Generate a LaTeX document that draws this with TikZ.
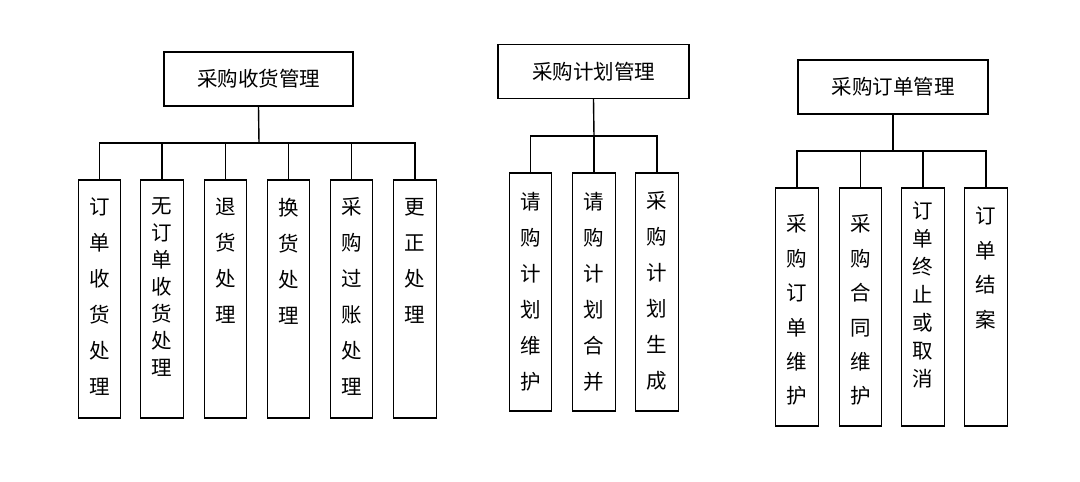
\documentclass[tikz,border=0pt]{standalone}
\usepackage{fontspec}
\newfontfamily\cjk{Noto Sans CJK SC}
\begin{document}
\begin{tikzpicture}[x=1pt,y=-1pt,line width=1.4pt,
  rootbox/.style={draw,rectangle,inner sep=0pt,minimum height=54pt,font=\cjk\fontsize{20.5}{24}\selectfont},
  leafbox/.style={draw,rectangle,inner sep=0pt,minimum width=42.5pt,minimum height=238pt},
  vt/.style={anchor=north,inner sep=0pt,align=center,font=\cjk\fontsize{20.5}{36}\selectfont},
  vtb/.style={vt,font=\cjk\fontsize{20.5}{27}\selectfont},
  vtc/.style={vt,font=\cjk\fontsize{20.5}{34.4}\selectfont},
  vtd/.style={vt,font=\cjk\fontsize{20.5}{28}\selectfont},
  link/.style={line width=1.4pt}]
\useasboundingbox (0,0) rectangle (1080,482);

% ---------- group 1 ----------
\node[rootbox,minimum width=189pt] (r1) at (258.5,79) {采购收货管理};
\coordinate (bus1) at (259,143);
\foreach \n/\x in {1/99.5,2/162,3/225.5,4/288.5,5/351.5,6/415}
  \node[leafbox] (b1\n) at (\x,299) {};
\node[vt]  (t11) at ([yshift=-18pt]b11.north) {订\\单\\收\\货\\处\\理};
\node[vtb] (t12) at ([yshift=-18pt]b12.north) {无\\订\\单\\收\\货\\处\\理};
\node[vt]  (t13) at ([yshift=-18pt]b13.north) {退\\货\\处\\理};
\node[vt]  (t14) at ([yshift=-18pt]b14.north) {换\\货\\处\\理};
\node[vt]  (t15) at ([yshift=-18pt]b15.north) {采\\购\\过\\账\\处\\理};
\node[vt]  (t16) at ([yshift=-18pt]b16.north) {更\\正\\处\\理};
\draw[link] (r1.south) -- (bus1);
\draw[link] (b11.north) -- (b11.north |- bus1) -- (b16.north |- bus1) -- (b16.north);
\foreach \n in {2,3,4,5}
  \draw[link] (b1\n.north) -- (b1\n.north |- bus1);

% ---------- group 2 ----------
\node[rootbox,minimum width=191pt] (r2) at (593.5,71.5) {采购计划管理};
\coordinate (bus2) at (594,136);
\foreach \n/\x in {1/530.5,2/594,3/657}
  \node[leafbox] (b2\n) at (\x,292) {};
\node[vt] (t21) at ([yshift=-19pt]b21.north) {请\\购\\计\\划\\维\\护};
\node[vt] (t22) at ([yshift=-19pt]b22.north) {请\\购\\计\\划\\合\\并};
\node[vt] (t23) at ([yshift=-19pt]b23.north) {采\\购\\计\\划\\生\\成};
\draw[link] (r2.south) -- (bus2);
\draw[link] (b21.north) -- (b21.north |- bus2) -- (b23.north |- bus2) -- (b23.north);
\draw[link] (b22.north) -- (b22.north |- bus2);

% ---------- group 3 ----------
\node[rootbox,minimum width=190pt] (r3) at (893,87) {采购订单管理};
\coordinate (bus3) at (893,151);
\foreach \n/\x in {1/797,2/860.5,3/923,4/986}
  \node[leafbox] (b3\n) at (\x,307) {};
\node[vtc] (t31) at ([yshift=-27pt]b31.north) {采\\购\\订\\单\\维\\护};
\node[vtc] (t32) at ([yshift=-27pt]b32.north) {采\\购\\合\\同\\维\\护};
\node[vtd] (t33) at ([yshift=-14pt]b33.north) {订\\单\\终\\止\\或\\取\\消};
\node[vtc] (t34) at ([yshift=-19pt]b34.north) {订\\单\\结\\案};
\draw[link] (r3.south) -- (bus3);
\draw[link] (b31.north) -- (b31.north |- bus3) -- (b34.north |- bus3) -- (b34.north);
\foreach \n in {2,3}
  \draw[link] (b3\n.north) -- (b3\n.north |- bus3);
\end{tikzpicture}
\end{document}
